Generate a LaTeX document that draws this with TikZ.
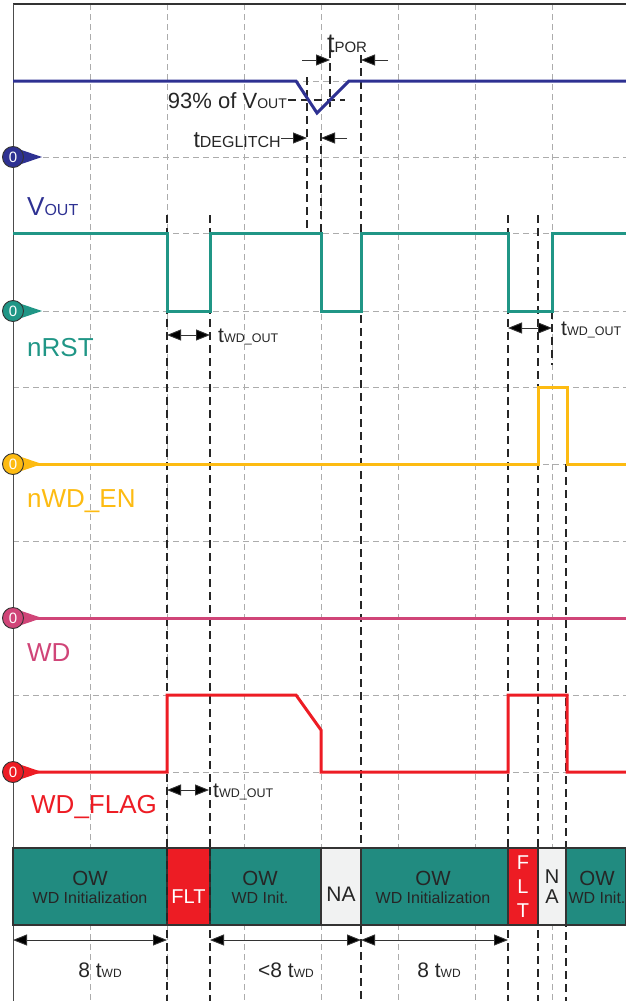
\documentclass[tikz,border=0pt]{standalone}
\usepackage{fontspec}
\setmainfont{Liberation Sans}
\usetikzlibrary{arrows.meta, calc}
\definecolor{vout}{RGB}{46,49,146}
\definecolor{rst}{RGB}{32,150,134}
\definecolor{wden}{RGB}{253,187,18}
\definecolor{wd}{RGB}{208,69,120}
\definecolor{flag}{RGB}{237,28,36}
\definecolor{owbar}{RGB}{33,139,128}
\definecolor{nabar}{RGB}{241,242,242}
\newcommand{\fsz}[1]{\fontsize{#1}{#1}\selectfont}
\newcommand{\tsub}[3]{#1{\fsz{#3}#2}}

\begin{document}
\begin{tikzpicture}[
    x=1pt, y=-1pt,
    grid/.style={gray!65, line width=0.8pt, dash pattern=on 6pt off 4pt},
    event/.style={black!85, line width=2pt, dash pattern=on 8pt off 5pt},
    wave/.style={line width=3pt, line join=miter},
    dim/.style={black!80, line width=0.9pt, -{Triangle[length=14pt,width=11pt,fill=black]}},
    dimboth/.style={black!80, line width=0.9pt, {Triangle[length=14pt,width=11pt,fill=black]}-{Triangle[length=14pt,width=11pt,fill=black]}},
    marker/.style={circle, draw=black!80, line width=0.9pt, minimum size=21pt, inner sep=0pt, text=white, font=\fsz{15}},
    siglabel/.style={anchor=base west, inner sep=0pt, font=\fsz{26}},
    note/.style={inner sep=0pt, text=black!85},
    seg/.style={draw=black!80, line width=1.2pt},
    segtext/.style={inner sep=0pt, text=black!85, align=center}
]
\useasboundingbox (0,0) rectangle (626,1001);

% grid
\foreach \x in {90,167,244,321,398,475,552}
    \draw[grid] (\x,4) -- (\x,1001);
\foreach \y in {81,157,233,311,387,464,541,618,695,772}
    \draw[grid] (13,\y) -- (626,\y);
\draw[black!80, line width=1.2pt] (13,4) -- (626,4);
\draw[black!70, line width=1pt] (13,4) -- (13,1001);

% event lines
\foreach \x in {167,210,508,538}
    \draw[event] (\x,215) -- (\x,1001);
\draw[event] (307,77) -- (307,233);
\draw[event] (321,133) -- (321,311);
\draw[event] (330,50) -- (330,107);
\draw[event] (361,55) -- (361,1001);
\draw[event] (552,311) -- (552,365);
\draw[event] (566,464) -- (566,1001);
\draw[event, line width=1.2pt] (288,100) -- (345,100);

% waveforms
\draw[wave, vout] (13,81) -- (296,81) -- (317,113) -- (349,81) -- (626,81);
\draw[wave, rst] (13,233) -- (167,233) -- (167,311) -- (210,311) -- (210,233) -- (321,233) -- (321,311)
    -- (361,311) -- (361,233) -- (508,233) -- (508,311) -- (552,311) -- (552,233) -- (626,233);
\draw[wave, wden] (13,464) -- (538,464) -- (538,387) -- (567,387) -- (567,464) -- (626,464);
\draw[wave, wd] (13,618) -- (626,618);
\draw[wave, flag] (13,772) -- (167,772) -- (167,695) -- (296,695) -- (321,730) -- (321,772)
    -- (508,772) -- (508,695) -- (567,695) -- (567,772) -- (626,772);

% zero markers
\foreach \y/\c [count=\i] in {157/vout, 311/rst, 464/wden, 618/wd, 772/flag} {
    \fill[\c] (20,\y-7.5) -- (42,\y) -- (20,\y+7.5) -- cycle;
    \node[marker, fill=\c] (zero\i) at (13,\y) {0};
}

% signal names
\node[siglabel, text=vout] (lvout) at (27,215) {\tsub{V}{OUT}{16}};
\node[siglabel, text=rst] (lrst) at (27,356) {nRST};
\node[siglabel, text=wden] (lwden) at (27,507) {nWD\_EN};
\node[siglabel, text=wd] (lwd) at (27,661) {WD};
\node[siglabel, text=flag] (lflag) at (31,813) {WD\_FLAG};

% timing annotations
\node[note, anchor=base, font=\fsz{27}] (tpor) at (347,52) {\tsub{t}{POR}{15}};
\coordinate (porL) at (330,60);
\coordinate (porR) at (361,60);
\draw[dim] ($(porL)+(-28,0)$) -- (porL);
\draw[dim] ($(porR)+(27,0)$) -- (porR);

\node[note, anchor=base east, font=\fsz{22}] (pct) at (287,108) {93\% of \tsub{V}{OUT}{14}};
\node[note, anchor=base east, font=\fsz{23}] (tdeg) at (281,147) {\tsub{t}{DEGLITCH}{16}};
\coordinate (degL) at (307,138);
\coordinate (degR) at (321,138);
\draw[dim] (tdeg.east |- degL) -- (degL);
\draw[dim] ($(degR)+(26,0)$) -- (degR);

\coordinate (wa1) at (167,335);
\coordinate (wb1) at (210,335);
\draw[dimboth] (wa1) -- (wb1);
\node[note, anchor=base west, font=\fsz{21}] (two1) at (218,342) {\tsub{t}{WD\_OUT}{12.5}};

\coordinate (wa2) at (508,328);
\coordinate (wb2) at (552,328);
\draw[dimboth] (wa2) -- (wb2);
\node[note, anchor=base west, font=\fsz{21}] (two2) at (561,335) {\tsub{t}{WD\_OUT}{12.5}};

\coordinate (wa3) at (167,790);
\coordinate (wb3) at (209,790);
\draw[dimboth] (wa3) -- (wb3);
\node[note, anchor=base west, font=\fsz{21}] (two3) at (213,797) {\tsub{t}{WD\_OUT}{12.5}};

% state bar
\foreach \a/\b/\c in {13/167/owbar, 167/210/flag, 210/321/owbar, 321/361/nabar,
                      361/508/owbar, 508/538/flag, 538/566/nabar, 566/626/owbar}
    \draw[seg, fill=\c] (\a,848) rectangle (\b,925);
\draw[event] (167,848) -- (167,925);
\draw[event] (210,848) -- (210,925);

\node[segtext, anchor=base, font=\fsz{20.5}] (ow1) at (90,885) {OW};
\node[segtext, anchor=base, font=\fsz{16}] (wi1) at (90,903) {WD Initialization};
\node[segtext, anchor=base, font=\fsz{20}, text=white] (flt1) at (188.5,903) {FLT};
\node[segtext, anchor=base, font=\fsz{20.5}] (ow2) at (260,885) {OW};
\node[segtext, anchor=base, font=\fsz{16}] (wi2) at (260,903) {WD Init.};
\node[segtext, anchor=base, font=\fsz{21}] (na1) at (341,901) {NA};
\node[segtext, anchor=base, font=\fsz{20.5}] (ow3) at (433,885) {OW};
\node[segtext, anchor=base, font=\fsz{16}] (wi3) at (433,903) {WD Initialization};
\node[segtext, font={\fontsize{20}{24}\selectfont}, text=white] (flt2) at (523,886.5) {F\\L\\T};
\node[segtext, font={\fontsize{20}{20}\selectfont}] (na2) at (552,886.5) {N\\A};
\node[segtext, anchor=base, font=\fsz{20.5}] (ow4) at (597,885) {OW};
\node[segtext, anchor=base, font=\fsz{16}] (wi4) at (597,903) {WD Init.};

% durations
\coordinate (d0) at (13,940);
\coordinate (d1) at (167,940);
\coordinate (d2) at (210,940);
\coordinate (d3) at (361,940);
\coordinate (d4) at (508,940);
\draw[dimboth] (d0) -- (d1);
\draw[dimboth] (d2) -- (d3);
\draw[dimboth] (d3) -- (d4);
\node[note, anchor=base, font=\fsz{21}] (dur1) at (100,977) {8 \tsub{t}{WD}{12}};
\node[note, anchor=base, font=\fsz{21}] (dur2) at (286,977) {<8 \tsub{t}{WD}{12}};
\node[note, anchor=base, font=\fsz{21}] (dur3) at (439,977) {8 \tsub{t}{WD}{12}};

\end{tikzpicture}
\end{document}
